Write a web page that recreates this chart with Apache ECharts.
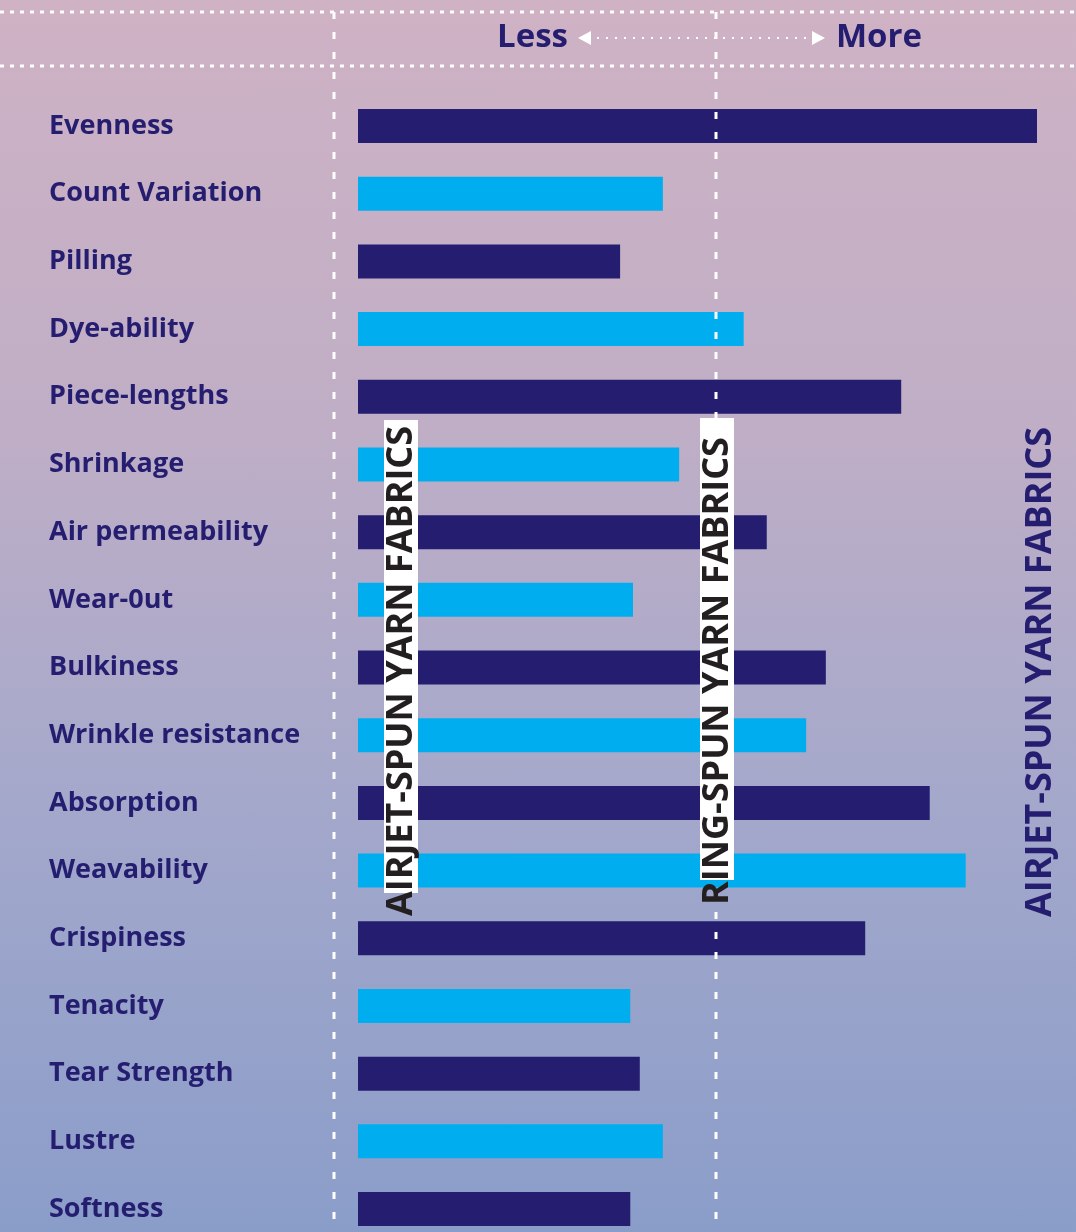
<!DOCTYPE html>
<html><head><meta charset="utf-8">
<script src="https://cdn.jsdelivr.net/npm/echarts@6/dist/echarts.min.js"></script>
<style>html,body{margin:0;padding:0;}#c{width:1076px;height:1232px;background:linear-gradient(180deg,#cfb2c4 0%,#bfaec6 35%,#a4a8cb 65%,#8a9dc9 100%);}</style>
</head><body><div id="c"></div>
<script>
const categories = ["Evenness","Count Variation","Pilling","Dye-ability","Piece-lengths","Shrinkage","Air permeability","Wear-0ut","Bulkiness","Wrinkle resistance","Absorption","Weavability","Crispiness","Tenacity","Tear Strength","Lustre","Softness"];
const values = [100,44.9,38.6,56.8,80.0,47.3,60.2,40.5,68.9,66.0,84.2,89.5,74.7,40.1,41.5,44.9,40.1];
const headerLeft = "Less";
const headerRight = "More";
const verticalLabels = ["AIRJET-SPUN YARN FABRICS","RING-SPUN YARN FABRICS","AIRJET-SPUN YARN FABRICS"];
const NAVY = "#251d70", CYAN = "#00aeef";

const chart = echarts.init(document.getElementById('c'));
const dashV = {stroke:'#ffffff', lineWidth:3, lineDash:[7,13]};
const dashH = {stroke:'#ffffff', lineWidth:3, lineDash:[4,6]};
const vfont = 'bold 36px "Liberation Sans Narrow", "Open Sans", sans-serif';
chart.setOption({
  animation:false,
  grid:{left:358, top:126, width:679, height:1083, containLabel:false},
  xAxis:{type:'value', min:0, max:100, show:false},
  yAxis:{type:'category', data:categories, inverse:true, boundaryGap:false,
    axisLine:{show:false}, axisTick:{show:false}, splitLine:{show:false},
    axisLabel:{align:'left', margin:309, color:NAVY, fontFamily:'"Open Sans", sans-serif', fontWeight:'bold', fontSize:27}},
  series:[{type:'bar', data:values.map((v,i)=>({value:v, itemStyle:{color: i%2===0?NAVY:CYAN}})), barWidth:34}],
  graphic:[
    {type:'line', shape:{x1:0,y1:12,x2:1076,y2:12}, style:dashH, z:10},
    {type:'line', shape:{x1:0,y1:66,x2:1076,y2:66}, style:dashH, z:10},
    {type:'line', shape:{x1:334,y1:12,x2:334,y2:1232}, style:dashV, z:10},
    {type:'line', shape:{x1:716,y1:12,x2:716,y2:1232}, style:dashV, z:10},
    {type:'text', x:568, y:38, style:{text:headerLeft, align:'right', verticalAlign:'middle', fill:NAVY, font:'bold 33px "Liberation Sans Narrow", "Open Sans", sans-serif'}, z:20},
    {type:'text', x:836, y:38, style:{text:headerRight, align:'left', verticalAlign:'middle', fill:NAVY, font:'bold 33px "Liberation Sans Narrow", "Open Sans", sans-serif'}, z:20},
    {type:'polygon', shape:{points:[[578,38],[591,31],[591,45]]}, style:{fill:'#fff'}, z:20},
    {type:'polygon', shape:{points:[[825,38],[812,31],[812,45]]}, style:{fill:'#fff'}, z:20},
    {type:'line', shape:{x1:597,y1:38,x2:808,y2:38}, style:{stroke:'#fff', lineWidth:2, lineDash:[2,7]}, z:20},
    {type:'rect', shape:{x:384,y:420,width:34,height:473}, style:{fill:'#fff'}, z:30},
    {type:'rect', shape:{x:700,y:418,width:34,height:462}, style:{fill:'#fff'}, z:30},
    {type:'text', x:402, y:671, rotation:Math.PI/2, style:{text:verticalLabels[0], align:'center', verticalAlign:'middle', fill:'#231f20', font:vfont}, z:40},
    {type:'text', x:718, y:671, rotation:Math.PI/2, style:{text:verticalLabels[1], align:'center', verticalAlign:'middle', fill:'#231f20', font:vfont}, z:40},
    {type:'text', x:1041, y:672, rotation:Math.PI/2, style:{text:verticalLabels[2], align:'center', verticalAlign:'middle', fill:NAVY, font:vfont}, z:40}
  ]
});
</script></body></html>
